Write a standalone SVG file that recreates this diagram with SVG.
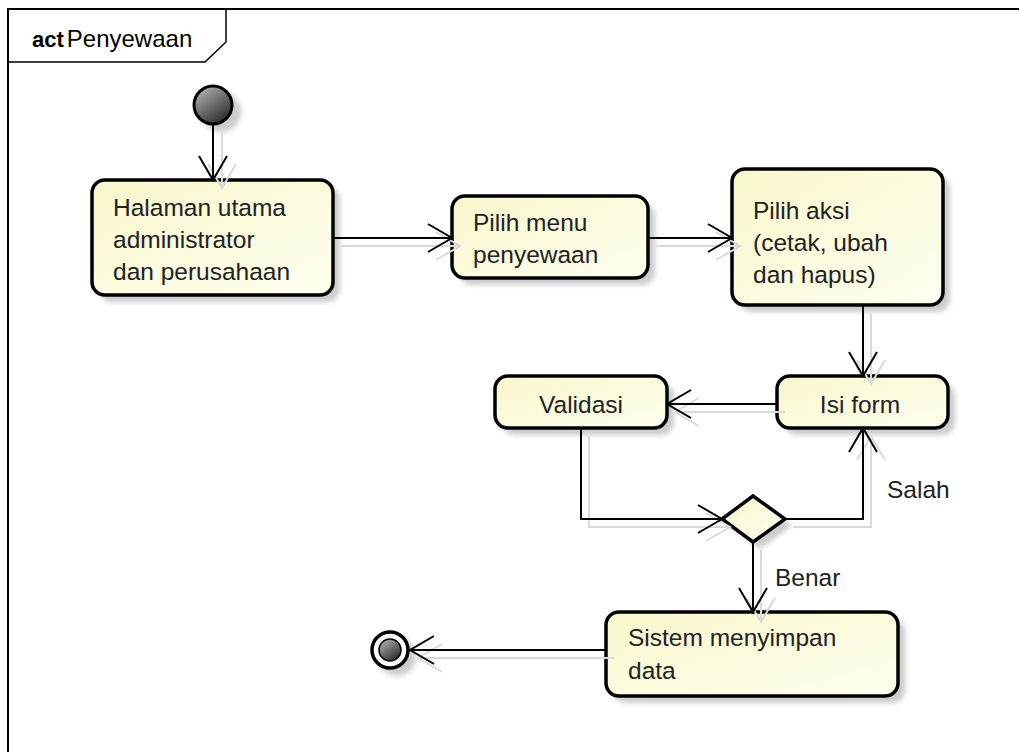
<svg xmlns="http://www.w3.org/2000/svg" width="1019" height="752" viewBox="0 0 1019 752">
  <defs>
    <linearGradient id="gFill" x1="0" y1="0" x2="1" y2="1">
      <stop offset="0" stop-color="#f9f7cc"/>
      <stop offset="1" stop-color="#fffff0"/>
    </linearGradient>
    <linearGradient id="gBall" x1="0.2" y1="0.1" x2="0.8" y2="0.95">
      <stop offset="0" stop-color="#a8a8a8"/>
      <stop offset="1" stop-color="#2a2a2a"/>
    </linearGradient>
    <filter id="blur" x="-20%" y="-20%" width="140%" height="140%">
      <feGaussianBlur stdDeviation="2.5"/>
    </filter>
    <marker id="arr" markerUnits="userSpaceOnUse" orient="auto" refX="0" refY="0" markerWidth="30" markerHeight="30" overflow="visible">
      <path d="M-24,-14 L0,0 L-24,14" fill="none" stroke="#000" stroke-width="2"/>
    </marker>
    <marker id="arrS" markerUnits="userSpaceOnUse" orient="auto" refX="0" refY="0" markerWidth="30" markerHeight="30" overflow="visible">
      <path d="M-24,-14 L0,0 L-24,14" fill="none" stroke="#dadada" stroke-width="2"/>
    </marker>
  </defs>
  <style>
    .node { fill: url(#gFill); stroke: #000; stroke-width: 3.5; }
    .shadow { fill: #cccccc; filter: url(#blur); }
    .lbl { font-family: "Liberation Sans", Arial, sans-serif; font-size: 24.5px; fill: #222; }
    .conn { fill: none; stroke: #000; stroke-width: 2; marker-end: url(#arr); }
    .connS { fill: none; stroke: #dadada; stroke-width: 2; marker-end: url(#arrS); }
  </style>
  <rect width="1019" height="752" fill="#fff"/>

  <g id="frame">
    <path d="M8,752 L8,9 L1019,9" fill="none" stroke="#000" stroke-width="2"/>
    <path d="M8,62 L205,62 L226,42 L226,9" fill="none" stroke="#000" stroke-width="1.5"/>
    <text x="32" y="47" font-family="Liberation Sans, Arial, sans-serif" fill="#000"><tspan font-weight="bold" font-size="22">act</tspan><tspan dx="3" font-size="24">Penyewaan</tspan></text>
  </g>

  <g id="node-shadows">
    <circle cx="221" cy="112" r="20" class="shadow"/>
    <rect x="99" y="187" width="241" height="115" rx="13" class="shadow"/>
    <rect x="459" y="203" width="196" height="82" rx="13" class="shadow"/>
    <rect x="739" y="176" width="211" height="136" rx="13" class="shadow"/>
    <rect x="502" y="383" width="172" height="52" rx="13" class="shadow"/>
    <rect x="784" y="383" width="171" height="52" rx="13" class="shadow"/>
    <polygon points="729,526 760,503 792,526 760,549" class="shadow"/>
    <rect x="613" y="619" width="292" height="84" rx="13" class="shadow"/>
    <circle cx="397" cy="657" r="19" class="shadow"/>
  </g>

  <g id="start">
    <circle cx="213" cy="105" r="19" fill="url(#gBall)" stroke="#000" stroke-width="3"/>
  </g>

  <g id="halaman">
    <rect x="92" y="180" width="241" height="115" rx="13" class="node"/>
    <text class="lbl" x="113" y="216">Halaman utama</text>
    <text class="lbl" x="113" y="248">administrator</text>
    <text class="lbl" x="113" y="280">dan perusahaan</text>
  </g>

  <g id="pilih-menu">
    <rect x="452" y="196" width="196" height="82" rx="13" class="node"/>
    <text class="lbl" x="473" y="231">Pilih menu</text>
    <text class="lbl" x="473" y="263">penyewaan</text>
  </g>

  <g id="pilih-aksi">
    <rect x="732" y="169" width="211" height="136" rx="13" class="node"/>
    <text class="lbl" x="753" y="219">Pilih aksi</text>
    <text class="lbl" x="753" y="251">(cetak, ubah</text>
    <text class="lbl" x="753" y="283">dan hapus)</text>
  </g>

  <g id="validasi">
    <rect x="495" y="376" width="172" height="52" rx="13" class="node"/>
    <text class="lbl" x="581" y="413" text-anchor="middle">Validasi</text>
  </g>

  <g id="isi-form">
    <rect x="777" y="376" width="171" height="52" rx="13" class="node"/>
    <text class="lbl" x="860" y="413" text-anchor="middle">Isi form</text>
  </g>

  <g id="decision">
    <polygon points="722,519 753,496 785,519 753,542" fill="url(#gFill)" stroke="#000" stroke-width="3.5"/>
  </g>

  <g id="sistem">
    <rect x="606" y="612" width="292" height="84" rx="13" class="node"/>
    <text class="lbl" x="628" y="646">Sistem menyimpan</text>
    <text class="lbl" x="628" y="679">data</text>
  </g>

  <g id="end">
    <circle cx="390" cy="650" r="18" fill="#fff" stroke="#000" stroke-width="3.5"/>
    <circle cx="390" cy="650" r="11" fill="url(#gBall)" stroke="#000" stroke-width="1.5"/>
  </g>

  <g id="connectors">
    <g id="connector-shadows">
      <path class="connS" d="M222,128 L222,188"/>
      <path class="connS" d="M341,246 L460,246"/>
      <path class="connS" d="M656,246 L740,246"/>
      <path class="connS" d="M871,313 L871,384"/>
      <path class="connS" d="M785,412 L675,412"/>
      <path class="connS" d="M589,436 L589,527 L730,527"/>
      <path class="connS" d="M793,527 L871,527 L871,436"/>
      <path class="connS" d="M761,550 L761,622"/>
      <path class="connS" d="M614,658 L418,658"/>
    </g>
    <path class="conn" d="M213,125 L213,180"/>
    <path class="conn" d="M333,238 L452,238"/>
    <path class="conn" d="M648,238 L732,238"/>
    <path class="conn" d="M863,305 L863,376"/>
    <path class="conn" d="M777,404 L667,404"/>
    <path class="conn" d="M581,428 L581,519 L722,519"/>
    <path class="conn" d="M785,519 L863,519 L863,428"/>
    <path class="conn" d="M753,542 L753,612"/>
    <path class="conn" d="M606,650 L410,650"/>
    <text class="lbl" x="887" y="498">Salah</text>
    <text class="lbl" x="775" y="586">Benar</text>
  </g>
</svg>
